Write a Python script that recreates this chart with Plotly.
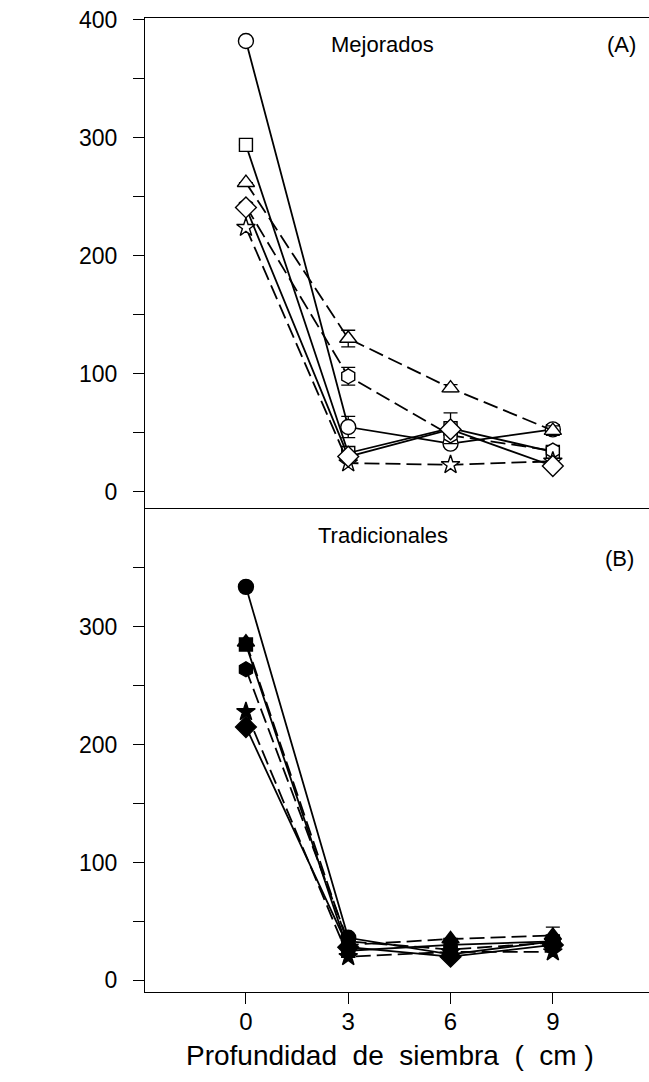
import plotly.graph_objects as go

depth = [0, 3, 6, 9]

# Panel A (Mejorados) - open markers
a_circle = [382, 55, 41, 53]
a_circle_err = [0, 9, 0, 4]
a_square = [294, 33, 54, 34]
a_square_err = [0, 0, 13, 0]
a_triangle = [262, 130, 88, 52]
a_triangle_err = [0, 7, 3, 4]
a_diamond = [241, 30, 53, 22]
a_star = [224, 24.5, 23, 26]
a_hexagon = [242, 98, 48, 35]
a_hexagon_err = [0, 7.5, 0, 0]

# Panel B (Tradicionales) - filled markers
b_circle = [334, 36, 22, 33]
b_square = [285, 25, 30, 33]
b_triangle = [287, 30, 35, 38]
b_triangle_err = [0, 0, 0, 7]
b_hexagon = [264, 33, 26, 32]
b_star = [228, 20, 24, 24]
b_diamond = [215, 28, 20, 30]

FONT = "Liberation Sans, Arial, sans-serif"

fig = go.Figure()

def add(x, y, symbol, size, dash, filled, axis, err=None):
    kw = {}
    if err is not None:
        kw["error_y"] = dict(type="data", array=err, visible=True, color="black",
                             thickness=1.3, width=7)
    fig.add_trace(go.Scatter(
        x=x, y=y, mode="lines+markers",
        line=dict(color="black", width=1.8, dash=dash),
        marker=dict(symbol=symbol, size=size,
                    color="black" if filled else "white",
                    line=dict(color="black", width=1.4)),
        xaxis="x" if axis == 1 else "x2",
        yaxis="y" if axis == 1 else "y2",
        showlegend=False, **kw))

DASH = "15px,6px"

# Panel A
add(depth, a_circle, "circle", 15, "solid", False, 1, a_circle_err)
add(depth, a_square, "square", 13, "solid", False, 1, a_square_err)
add(depth, a_hexagon, "hexagon", 15, DASH, False, 1, a_hexagon_err)
add(depth, a_triangle, "triangle-up", 15, DASH, False, 1, a_triangle_err)
add(depth, a_star, "star", 14, DASH, False, 1)
add(depth, a_diamond, "diamond", 16, "solid", False, 1)

# Panel B
add(depth, b_hexagon, "hexagon", 15, DASH, True, 2)
add(depth, b_triangle, "triangle-up", 15, DASH, True, 2, b_triangle_err)
add(depth, b_star, "star", 14, DASH, True, 2)
add(depth, b_square, "square", 13, "solid", True, 2)
add(depth, b_circle, "circle", 15, "solid", True, 2)
add(depth, b_diamond, "diamond", 16, "solid", True, 2)

xr = [-2.96, 11.82]
top_ticks = list(range(0, 401, 50))
bot_ticks = list(range(0, 351, 50))
lab = lambda v: str(v) if v % 100 == 0 else ""

fig.update_layout(
    width=649, height=1082,
    margin=dict(l=145, r=0, t=18, b=90),
    paper_bgcolor="white", plot_bgcolor="white",
    font=dict(family=FONT, color="black"),
    xaxis=dict(domain=[0, 1], anchor="y", range=xr, showline=True, mirror=True,
               linecolor="black", linewidth=1.2, ticks="", showticklabels=False,
               showgrid=False, zeroline=False),
    yaxis=dict(domain=[0.497, 1], anchor="x", range=[-13.5, 401.5],
               tickvals=top_ticks, ticktext=[lab(v) for v in top_ticks],
               ticks="outside", ticklen=11, tickwidth=1.2, tickcolor="black",
               showline=True, linecolor="black", linewidth=1.2,
               showgrid=False, zeroline=False, ticklabelstandoff=11,
               tickfont=dict(size=23, family=FONT)),
    xaxis2=dict(domain=[0, 1], anchor="y2", range=xr, showline=True,
                linecolor="black", linewidth=1.2, tickvals=depth,
                ticktext=[str(v) for v in depth],
                ticks="outside", ticklen=11, tickwidth=1.2, tickcolor="black",
                showgrid=False, zeroline=False, ticklabelstandoff=-3,
                tickfont=dict(size=24, family=FONT)),
    yaxis2=dict(domain=[0, 0.497], anchor="x2", range=[-10, 401],
                tickvals=bot_ticks, ticktext=[lab(v) for v in bot_ticks],
                ticks="outside", ticklen=11, tickwidth=1.2, tickcolor="black",
                showline=True, linecolor="black", linewidth=1.2,
                showgrid=False, zeroline=False, ticklabelstandoff=11,
                tickfont=dict(size=23, family=FONT)),
)

ann = [
    dict(text="Mejorados", x=(382 - 145) / 504, y=1 - (45 - 18) / 974, size=22),
    dict(text="(A)", x=(621 - 145) / 504, y=1 - (45 - 18) / 974, size=22),
    dict(text="Tradicionales", x=(382.5 - 145) / 504, y=1 - (535 - 18) / 974, size=22),
    dict(text="(B)", x=(619 - 145) / 504, y=1 - (558 - 18) / 974, size=22),
    dict(text="Profundidad  de  siembra  (  cm )", x=(390 - 145) / 504,
         y=-(1055 - 992) / 974, size=28),
]
for a in ann:
    fig.add_annotation(text=a["text"], x=a["x"], y=a["y"], xref="paper", yref="paper",
                       xanchor="center", yanchor="middle", showarrow=False,
                       font=dict(size=a["size"], family=FONT, color="black"))

fig.write_html("out.html")
